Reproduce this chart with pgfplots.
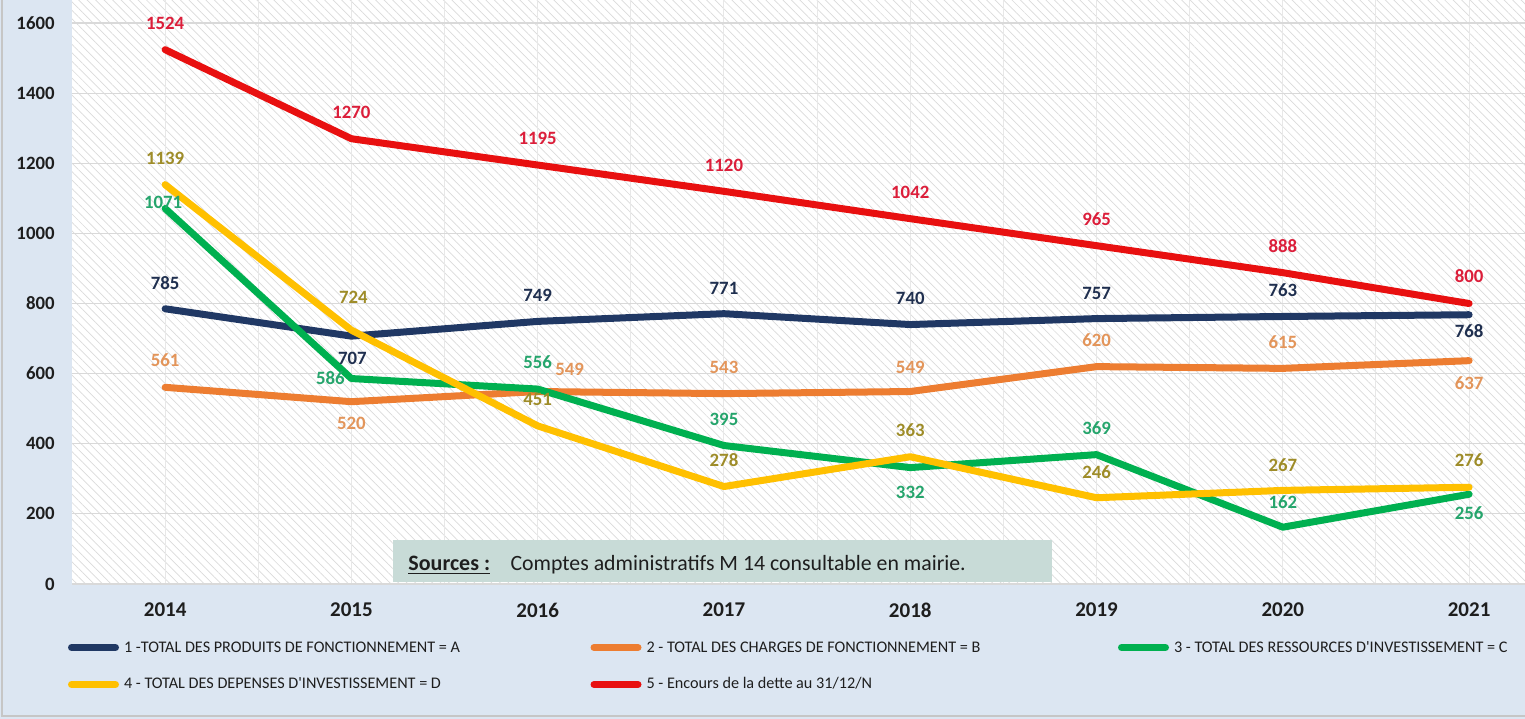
\documentclass[border=0pt]{standalone}
\usepackage{fontspec}
\setmainfont{Carlito}
\usepackage{pgfplots}
\pgfplotsset{compat=1.18}
\usepackage{pgfplotstable}
\usetikzlibrary{patterns.meta}

\definecolor{bgblue}{HTML}{DCE6F2}
\definecolor{cA}{HTML}{203864}
\definecolor{cB}{HTML}{ED7D31}
\definecolor{cC}{HTML}{00B050}
\definecolor{cD}{HTML}{FFC000}
\definecolor{cE}{HTML}{E81010}
\definecolor{lA}{HTML}{1F2F4F}
\definecolor{lB}{HTML}{E3955A}
\definecolor{lC}{HTML}{25A56C}
\definecolor{lD}{HTML}{9E8C28}
\definecolor{lE}{HTML}{DC1E3A}
\definecolor{txt}{HTML}{1E1E1E}
\definecolor{srcfill}{HTML}{C8DBD7}

\newcommand\lblfont{\fontsize{9.4bp}{11bp}\selectfont\bfseries}
\newcommand\legtxt[2]{\makebox[#1][l]{\rule[-2bp]{0pt}{8bp}#2}}

\pgfplotstableread{
x y dx dy
0 785 0 12.9
1 707 0.5 -11
2 749 0 13.2
3 771 0 12.85
4 740 0 13.3
5 757 0 12.8
6 763 0 13.25
7 768 0 -8
}\tA
\pgfplotstableread{
x y dx dy
0 561 0 13.5
1 520 0 -10.7
2 549 16 11.25
3 543 0 13.3
4 549 0 12.25
5 620 0 13.3
6 615 0 13.2
7 637 0 -11.15
}\tB
\pgfplotstableread{
x y dx dy
0 1071 -1 3.25
1 586 -10.5 0
2 556 0 13.5
3 395 0 13.25
4 332 0 -12.2
5 369 0 13.3
6 162 0 12.6
7 256 0 -9.7
}\tC
\pgfplotstableread{
x y dx dy
0 1139 0 13.3
1 724 1 16.2
2 451 0 13
3 278 0 13.25
4 363 0 13.3
5 246 0 12.9
6 267 0 12.7
7 276 0 13.6
}\tD
\pgfplotstableread{
x y dx dy
0 1524 0 13
1 1270 0 13.3
2 1195 0 13.5
3 1120 0 13.2
4 1042 0 13.3
5 965 0 13.3
6 888 0 13.3
7 800 0 13.75
}\tE

\pgfplotsset{
  /pgf/number format/assume math mode=true,
  /pgf/number format/1000 sep={},
  lbl/.style={only marks, mark=none, forget plot,
    nodes near coords,
    visualization depends on={\thisrow{dx}\as\dx},
    visualization depends on={\thisrow{dy}\as\dy},
    nodes near coords style={anchor=center, inner sep=0pt, xshift=\dx bp, yshift=\dy bp, font=\lblfont, text=#1}},
  ln/.style={draw=#1, line width=3.5bp, line join=round, line cap=round, mark=none}
}

\begin{document}
\begin{tikzpicture}
\fill[bgblue] (0,0) rectangle (762.5bp,359.5bp);
\draw[gray!45, line width=0.7bp] (1bp,400bp) -- (1bp,1.5bp) -- (800bp,1.5bp);
\begin{axis}[
  at={(36bp,67.5bp)}, anchor=south west,
  scale only axis, width=726.5bp, height=292bp,
  xmin=-0.5, xmax=7.3, ymin=0, ymax=1665.7,
  axis background/.style={fill=white, postaction={pattern={Lines[angle=-45,distance=3bp,line width=0.35bp]}, pattern color=gray!28}},
  axis line style={draw=none},
  major tick length=0pt, minor tick length=0pt,
  xtick={0,...,7},
  xticklabels={2014,2015,2016,2017,2018,2019,2020,2021},
  minor xtick={0.5,1.5,...,6.5},
  ytick={0,200,...,1600},
  ymajorgrids, xmajorgrids, xminorgrids,
  major y grid style={color=black!15, line width=0.6bp},
  major x grid style={color=black!9, line width=0.5bp},
  minor x grid style={color=black!9, line width=0.5bp},
  yticklabel style={font=\lblfont, text=txt, inner sep=0pt, anchor=east, xshift=-8.5bp},
  xticklabel style={font=\fontsize{10.5bp}{12bp}\selectfont\bfseries, text=txt, inner sep=0pt, anchor=center, yshift=-13bp},
  clip=false,
  legend columns=3,
  legend cell align=left,
  legend style={at={(axis description cs:-0.00275,-0.0959)}, anchor=north west, draw=none, fill=none, inner sep=0pt, outer sep=0pt, row sep=11bp, column sep=0pt,
    nodes={inner sep=0pt, outer sep=0pt, font=\fontsize{8.1bp}{9.5bp}\selectfont, text=txt}},
  legend image code/.code={\draw[#1, line width=3.5bp, line cap=round] (0bp,0bp) -- (22bp,0bp); \path (24.5bp,0bp);},
]
\fill[srcfill] (axis cs:1.224,5.7) rectangle (axis cs:4.761,125.5);
\node[anchor=base west, inner sep=0pt, font=\fontsize{11bp}{13bp}\selectfont, text=txt] at (axis cs:1.304,39) {\underline{\textbf{Sources :}}};
\node[anchor=base west, inner sep=0pt, font=\fontsize{10.9bp}{13bp}\selectfont, text=txt] at (axis cs:1.852,39) {Comptes administratifs M 14 consultable en mairie.};

\addplot[ln=cA] table[x=x,y=y] {\tA};
\addlegendentry{\legtxt{233.25bp}{1 -TOTAL DES PRODUITS DE FONCTIONNEMENT = A}}
\addplot[ln=cB] table[x=x,y=y] {\tB};
\addlegendentry{\legtxt{235.75bp}{2 - TOTAL DES CHARGES DE FONCTIONNEMENT = B}}
\addplot[ln=cC] table[x=x,y=y] {\tC};
\addlegendentry{\legtxt{10bp}{3 - TOTAL DES RESSOURCES D\textquotesingle INVESTISSEMENT = C}}
\addplot[ln=cD] table[x=x,y=y] {\tD};
\addlegendentry{\legtxt{233.25bp}{4 - TOTAL DES DEPENSES D\textquotesingle INVESTISSEMENT = D}}
\addplot[ln=cE] table[x=x,y=y] {\tE};
\addlegendentry{\legtxt{235.75bp}{5 - Encours de la dette au 31/12/N}}

\addplot[lbl=lA] table[x=x,y=y] {\tA};
\addplot[lbl=lB] table[x=x,y=y] {\tB};
\addplot[lbl=lC] table[x=x,y=y] {\tC};
\addplot[lbl=lD] table[x=x,y=y] {\tD};
\addplot[lbl=lE] table[x=x,y=y] {\tE};
\end{axis}
\pgfresetboundingbox
\useasboundingbox (0,0) rectangle (762.5bp,359.5bp);
\end{tikzpicture}
\end{document}
